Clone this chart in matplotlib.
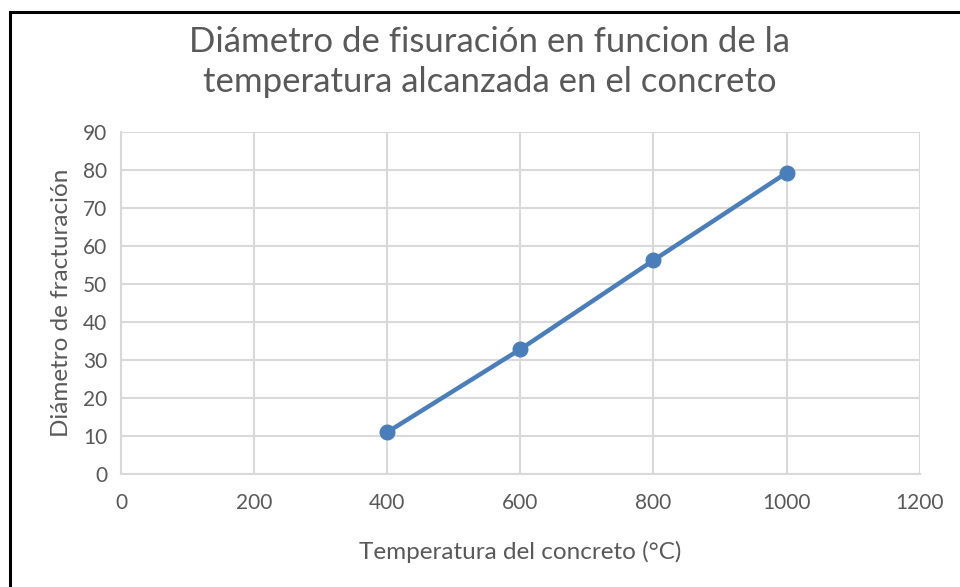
import matplotlib.pyplot as plt
from matplotlib.lines import Line2D

temperatura = [400, 600, 800, 1000]
diametro = [11, 32.8, 56.2, 79.2]

x_ticks = [0, 200, 400, 600, 800, 1000, 1200]
y_ticks = [0, 10, 20, 30, 40, 50, 60, 70, 80, 90]

gray_txt = "#595959"
grid_col = "#d9d9d9"
blue = "#4a7ebb"

plt.rcParams["font.family"] = ["Lato", "DejaVu Sans"]

fig = plt.figure(figsize=(9.6, 5.87), dpi=100)
ax = fig.add_axes([0.126, 0.1925, 0.832, 0.583])

ax.plot(temperatura, diametro, color=blue, linewidth=3.2, marker="o",
        markersize=10.5, zorder=3)

ax.set_xlim(0, 1200)
ax.set_ylim(0, 90)
ax.set_xticks(x_ticks)
ax.set_yticks(y_ticks)
ax.grid(True, color=grid_col, linewidth=1.5)
ax.tick_params(length=0, labelsize=15, labelcolor=gray_txt, pad=10)
ax.tick_params(axis="x", pad=14)
for s in ax.spines.values():
    s.set_visible(False)
ax.spines["left"].set_visible(True)
ax.spines["bottom"].set_visible(True)
ax.spines["left"].set_color(grid_col)
ax.spines["bottom"].set_color(grid_col)
ax.spines["left"].set_linewidth(1.5)
ax.spines["bottom"].set_linewidth(1.5)

ax.set_xlabel("Temperatura del concreto (°C)", fontsize=17.5, color=gray_txt,
              labelpad=20)
ax.set_ylabel("Diámetro de fracturación", fontsize=17.5, color=gray_txt,
              labelpad=8)

fig.text(0.51, 0.894, "Diámetro de fisuración en funcion de la\n"
         "temperatura alcanzada en el concreto", ha="center", va="center",
         fontsize=25, color=gray_txt, linespacing=1.32)

# black frame on left and top, as in the screenshot
fig.add_artist(Line2D([0.0105, 0.0105], [0, 0.979], color="black",
                      linewidth=2.2, transform=fig.transFigure))
fig.add_artist(Line2D([0.0105, 1.0], [0.979, 0.979], color="black",
                      linewidth=2.2, transform=fig.transFigure))

fig.savefig("out.png", dpi=100)
